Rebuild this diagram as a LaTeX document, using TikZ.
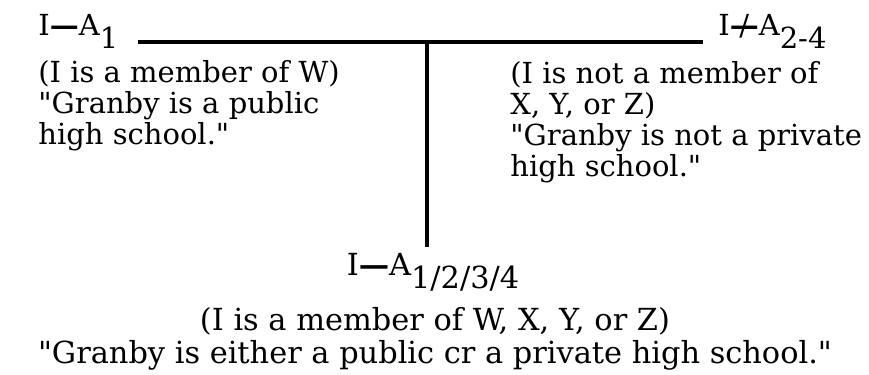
\documentclass[tikz,border=0pt]{standalone}
\usepackage{fontspec}
\setmainfont{DejaVu Serif}[Ligatures=TeXOff]
\usetikzlibrary{positioning}
\newcommand{\sbx}[1]{\raisebox{-6.5pt}{#1}}
\newcommand{\isrel}{\textbf{—}}
\newcommand{\notrel}{\ooalign{\textbf{—}\cr\hidewidth/\hidewidth}}
\tikzset{
  txt/.style={inner sep=0pt, align=left, font=\fontsize{14.5}{15.5}\selectfont},
  ctr/.style={inner sep=0pt, align=center, font=\fontsize{15.2}{16.5}\selectfont},
  hd/.style={inner sep=0pt, font=\fontsize{14.5}{15.5}\selectfont},
  bar/.style={line width=1.6pt, color=black},
}

\begin{document}
\begin{tikzpicture}[x=0.5pt, y=-0.5pt]
  \useasboundingbox (0,0) rectangle (869,375);
  \node[hd, anchor=base west] (hpub) at (38,35) {I\isrel A\sbx{1}};
  \node[hd, anchor=base west] (hpriv) at (718,35) {I\notrel A\sbx{2-4}};
  \coordinate (barl) at (138,42);
  \coordinate (barr) at (703,42);
  \coordinate (join) at (427,42);
  \coordinate (stem) at (427,247);
  \draw[bar] (barl) -- (barr);
  \draw[bar] (join) -- (stem);
  \node[txt, anchor=north west] (tpub) at (38,60) {(I is a member of W)\\"Granby is a public\\high school."};
  \node[txt, anchor=north west] (tpriv) at (510,61) {(I is not a member of\\X, Y, or Z)\\"Granby is not a private\\high school."};
  \node[hd, anchor=base, font=\fontsize{15.2}{16.5}\selectfont] (hall) at (433,275) {I\isrel A\sbx{1/2/3/4}};
  \node[ctr, anchor=north] (tall) at (435,307) {(I is a member of W, X, Y, or Z)\\"Granby is either a public cr a private high school."};
\end{tikzpicture}
\end{document}
